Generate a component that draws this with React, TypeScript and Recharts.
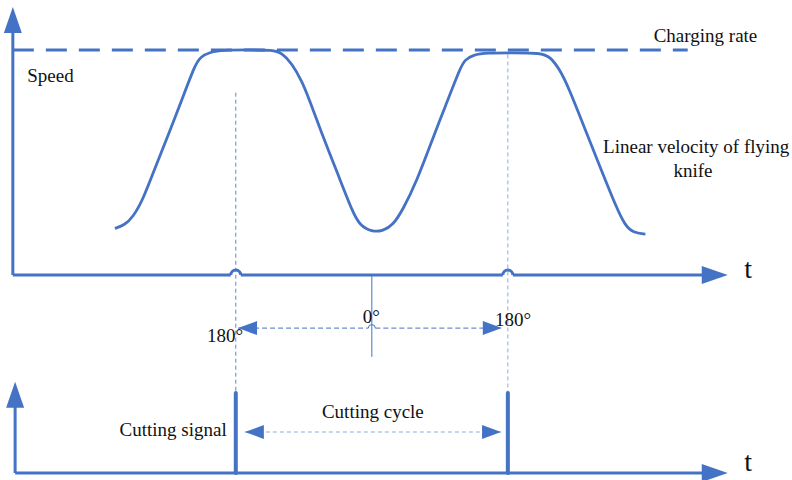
import { ComposedChart, Line, ReferenceLine, Scatter, XAxis, YAxis } from 'recharts'

const BLUE = '#4472C4'
const LIGHT = '#8FAADC'
const FONT = '"Liberation Serif", "Times New Roman", serif'

const W = 792
const H = 480

// time is counted in degrees of the cutting cycle (cut at 180 and 540, 0° mark at 360)
// speed is relative to the charging rate (1 = charging rate)
const TIME_DOMAIN: [number, number] = [-132, 916]
const SPEED_DOMAIN: [number, number] = [-0.911, 1.222]
const SIGNAL_DOMAIN: [number, number] = [-0.0875, 5.9125]

const knifeTime = [
  20, 33, 44, 57, 74, 92, 109, 126, 133, 146, 163, 196, 229, 241, 254, 268, 276, 295, 315, 335,
  344, 360, 375, 388, 401, 420, 438, 458, 477, 483, 494, 512, 547, 583, 596, 609, 620, 641, 662,
  685, 695, 706, 722,
]
const knifeSpeed = [
  0.207, 0.222, 0.258, 0.333, 0.484, 0.633, 0.782, 0.933, 0.969, 0.991, 1, 1, 1, 0.987, 0.942,
  0.858, 0.791, 0.618, 0.449, 0.276, 0.222, 0.191, 0.196, 0.222, 0.289, 0.422, 0.584, 0.756, 0.92,
  0.956, 0.978, 0.987, 0.987, 0.987, 0.971, 0.911, 0.836, 0.658, 0.48, 0.289, 0.222, 0.187, 0.182,
]

const CUT_TIMES = [180, 540]
const CUT_SIGNAL = 1
const ZERO_T = 360
const CHARGING_RATE = 1
const CHARGING_END_T = 778

const SPEED_AXIS_T = -115
const SIGNAL_AXIS_T = -112
const AXIS_END_T = 831
const SPEED_AXIS_TOP = 1.191
const SIGNAL_AXIS_TOP = 1.14

const GUIDE_TOP = [0.81, 0.98]
const GUIDE_BOTTOM = -0.52
const PHASE_LEVEL = -0.236
const PHASE_MARK_BOTTOM = -0.364
const PHASE_TIPS = [183, 532]
const CYCLE_LEVEL = 0.5125
const CYCLE_TIPS = [192, 531]

const speedLabels = [
  { t: -96, v: 0.858, text: 'Speed', anchor: 'start' },
  { t: 733, v: 1.036, text: 'Charging rate', anchor: 'start' },
  { t: 666, v: 0.542, text: 'Linear velocity of flying', anchor: 'start' },
  { t: 785, v: 0.436, text: 'knife', anchor: 'middle' },
  { t: 858, v: -0.013, text: 't', anchor: 'middle', kind: 'axis' },
  { t: 142, v: -0.296, text: '180°', anchor: 'start' },
  { t: 348, v: -0.213, text: '0°', anchor: 'start' },
  { t: 523, v: -0.227, text: '180°', anchor: 'start' },
]
const signalLabels = [
  { t: 294, s: 0.691, text: 'Cutting cycle', anchor: 'start' },
  { t: 168, s: 0.4625, text: 'Cutting signal', anchor: 'end' },
  { t: 858, s: 0.025, text: 't', anchor: 'middle', kind: 'axis' },
]

const knifeData = knifeTime.map((t, i) => ({ t, v: knifeSpeed[i] }))

const speedArrows = [
  { t: SPEED_AXIS_T, v: SPEED_AXIS_TOP, dir: 'up', kind: 'axis' },
  { t: AXIS_END_T, v: 0, dir: 'right', kind: 'axis' },
  { t: PHASE_TIPS[0], v: PHASE_LEVEL, dir: 'left', kind: 'dim' },
  { t: PHASE_TIPS[1], v: PHASE_LEVEL, dir: 'right', kind: 'dim' },
]
const signalArrows = [
  { t: SIGNAL_AXIS_T, s: SIGNAL_AXIS_TOP, dir: 'up', kind: 'axis' },
  { t: AXIS_END_T, s: 0, dir: 'right', kind: 'axis' },
  { t: CYCLE_TIPS[0], s: CYCLE_LEVEL, dir: 'left', kind: 'dim' },
  { t: CYCLE_TIPS[1], s: CYCLE_LEVEL, dir: 'right', kind: 'dim' },
]

const hops = [
  ...CUT_TIMES.map((t) => ({ t, v: 0, kind: 'axis' })),
  { t: ZERO_T, v: PHASE_LEVEL, kind: 'dim' },
]

// px -> time units, for the small gaps left for the hops
const PX_T = (TIME_DOMAIN[1] - TIME_DOMAIN[0]) / W
const HOP_R = { axis: 5, dim: 3.5 } as Record<string, number>
const ARROW_SIZE = { axis: [26, 9], dim: [19, 7] } as Record<string, number[]>

function ArrowHead(props: any) {
  const { cx, cy, payload } = props
  const [len, half] = ARROW_SIZE[payload.kind]
  let pts: number[][]
  if (payload.dir === 'up') pts = [[cx, cy], [cx - half, cy + len], [cx + half, cy + len]]
  else if (payload.dir === 'left') pts = [[cx, cy], [cx + len, cy - half], [cx + len, cy + half]]
  else pts = [[cx, cy], [cx - len, cy - half], [cx - len, cy + half]]
  return <polygon points={pts.map((p) => p.join(',')).join(' ')} fill={BLUE} />
}

function Hop(props: any) {
  const { cx, cy, payload } = props
  const r = HOP_R[payload.kind]
  return (
    <path
      d={`M ${cx - r} ${cy} A ${r} ${r} 0 0 1 ${cx + r} ${cy}`}
      fill="none"
      stroke={BLUE}
      strokeWidth={payload.kind === 'axis' ? 3 : 1}
    />
  )
}

function TextMark(props: any) {
  const { cx, cy, payload } = props
  return (
    <text
      x={cx}
      y={cy}
      textAnchor={payload.anchor}
      fontFamily={FONT}
      fontSize={payload.kind === 'axis' ? 28 : 19}
      fill="#111"
    >
      {payload.text}
    </text>
  )
}

export default function App() {
  const axisGap = HOP_R.axis * PX_T
  const phaseGap = HOP_R.dim * PX_T
  const xAxisStops = [SPEED_AXIS_T, ...CUT_TIMES.flatMap((c) => [c - axisGap, c + axisGap]), AXIS_END_T - 15]
  const xAxisSegments = [0, 2, 4].map((i) => [xAxisStops[i], xAxisStops[i + 1]])

  return (
    <div style={{ position: 'fixed', left: 0, top: 0, width: W, height: H, background: '#fff' }}>
      <ComposedChart width={W} height={H} margin={{ top: 0, right: 0, bottom: 0, left: 0 }}>
        <XAxis type="number" dataKey="t" domain={TIME_DOMAIN} hide allowDataOverflow />
        <YAxis yAxisId="speed" type="number" domain={SPEED_DOMAIN} hide allowDataOverflow />
        <YAxis yAxisId="signal" type="number" domain={SIGNAL_DOMAIN} hide allowDataOverflow />

        {/* dashed guides through the cutting instants */}
        {CUT_TIMES.map((c, i) => (
          <ReferenceLine
            key={`g-${c}`}
            yAxisId="speed"
            segment={[{ x: c, y: GUIDE_TOP[i] }, { x: c, y: GUIDE_BOTTOM }]}
            stroke={i === 0 ? '#5B86D0' : LIGHT}
            strokeWidth={1}
            strokeDasharray="4 3"
          />
        ))}

        {/* upper axes */}
        <ReferenceLine
          yAxisId="speed"
          segment={[{ x: SPEED_AXIS_T, y: 0 }, { x: SPEED_AXIS_T, y: SPEED_AXIS_TOP - 0.05 }]}
          stroke={BLUE}
          strokeWidth={3}
        />
        {xAxisSegments.map(([a, b]) => (
          <ReferenceLine
            key={`xa-${a}`}
            yAxisId="speed"
            segment={[{ x: a, y: 0 }, { x: b, y: 0 }]}
            stroke={BLUE}
            strokeWidth={3}
          />
        ))}
        <ReferenceLine
          yAxisId="speed"
          segment={[{ x: SPEED_AXIS_T, y: CHARGING_RATE }, { x: CHARGING_END_T, y: CHARGING_RATE }]}
          stroke={BLUE}
          strokeWidth={3}
          strokeDasharray="21 12"
        />

        {/* phase markers */}
        <ReferenceLine
          yAxisId="speed"
          segment={[{ x: ZERO_T, y: 0 }, { x: ZERO_T, y: PHASE_MARK_BOTTOM }]}
          stroke={BLUE}
          strokeWidth={1}
        />
        <ReferenceLine
          yAxisId="speed"
          segment={[{ x: PHASE_TIPS[0], y: PHASE_LEVEL }, { x: ZERO_T - phaseGap, y: PHASE_LEVEL }]}
          stroke={BLUE}
          strokeWidth={1}
          strokeDasharray="5 3"
        />
        <ReferenceLine
          yAxisId="speed"
          segment={[{ x: ZERO_T + phaseGap, y: PHASE_LEVEL }, { x: PHASE_TIPS[1], y: PHASE_LEVEL }]}
          stroke={BLUE}
          strokeWidth={1}
          strokeDasharray="5 3"
        />

        {/* lower axes */}
        <ReferenceLine
          yAxisId="signal"
          segment={[{ x: SIGNAL_AXIS_T, y: 0 }, { x: SIGNAL_AXIS_T, y: SIGNAL_AXIS_TOP - 0.14 }]}
          stroke={BLUE}
          strokeWidth={3}
        />
        <ReferenceLine
          yAxisId="signal"
          segment={[{ x: SIGNAL_AXIS_T, y: 0 }, { x: AXIS_END_T - 15, y: 0 }]}
          stroke={BLUE}
          strokeWidth={3}
        />
        <ReferenceLine
          yAxisId="signal"
          segment={[{ x: CYCLE_TIPS[0], y: CYCLE_LEVEL }, { x: CYCLE_TIPS[1], y: CYCLE_LEVEL }]}
          stroke={LIGHT}
          strokeWidth={1.2}
          strokeDasharray="4 3"
        />
        {CUT_TIMES.map((c) => (
          <ReferenceLine
            key={`cut-${c}`}
            yAxisId="signal"
            segment={[{ x: c, y: 0 }, { x: c, y: CUT_SIGNAL }]}
            stroke={BLUE}
            strokeWidth={4}
            strokeLinecap="round"
          />
        ))}

        <Line
          yAxisId="speed"
          data={knifeData}
          dataKey="v"
          type="basis"
          stroke={BLUE}
          strokeWidth={2.8}
          dot={false}
          activeDot={false}
          isAnimationActive={false}
        />

        <Scatter yAxisId="speed" data={hops} dataKey="v" shape={Hop} isAnimationActive={false} />
        <Scatter yAxisId="speed" data={speedArrows} dataKey="v" shape={ArrowHead} isAnimationActive={false} />
        <Scatter yAxisId="signal" data={signalArrows} dataKey="s" shape={ArrowHead} isAnimationActive={false} />
        <Scatter yAxisId="speed" data={speedLabels} dataKey="v" shape={TextMark} isAnimationActive={false} />
        <Scatter yAxisId="signal" data={signalLabels} dataKey="s" shape={TextMark} isAnimationActive={false} />
      </ComposedChart>
    </div>
  )
}
